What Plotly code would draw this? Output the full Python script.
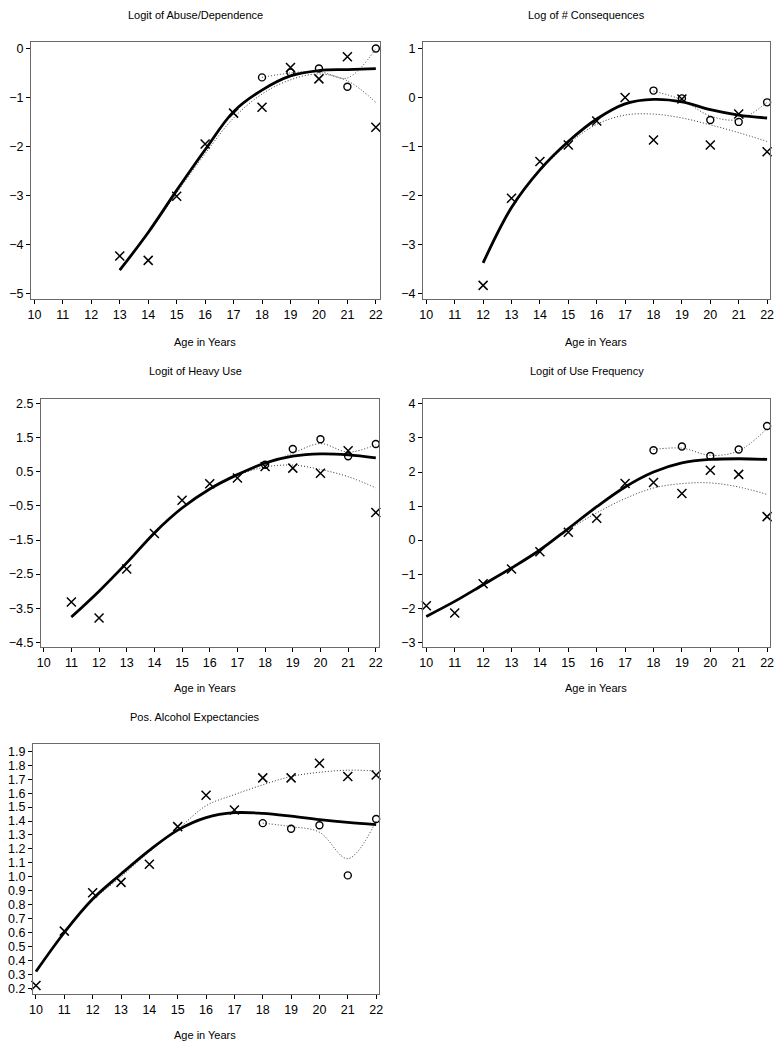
import plotly.graph_objects as go

W, H = 782, 1050

# ---------------- data ----------------
titles = ["Logit of Abuse/Dependence", "Log of # Consequences", "Logit of Heavy Use",
          "Logit of Use Frequency", "Pos. Alcohol Expectancies"]
xlabel = "Age in Years"
age_ticks = list(range(10, 23))
o_ages = [18, 19, 20, 21, 22]

# Panel 1: Logit of Abuse/Dependence
ages1 = list(range(13, 23))
xpts1 = [-4.24, -4.33, -3.02, -1.95, -1.32, -1.20, -0.39, -0.62, -0.17, -1.61]
opts1 = [-0.59, -0.49, -0.41, -0.78, 0.0]
fit1 = [-4.53, -3.76, -2.90, -2.07, -1.29, -0.85, -0.56, -0.45, -0.43, -0.41]
dotx1 = [-4.50, -3.78, -2.95, -2.15, -1.42, -0.93, -0.64, -0.52, -0.66, -1.10]
doto1 = [-0.59, -0.50, -0.47, -0.60, 0.0]

# Panel 2: Log of # Consequences
ages2 = list(range(12, 23))
xpts2 = [-3.84, -2.06, -1.31, -0.97, -0.48, 0.0, -0.87, -0.03, -0.97, -0.34, -1.11]
opts2 = [0.14, -0.02, -0.46, -0.50, -0.10]
fit2 = [-3.38, -2.25, -1.48, -0.90, -0.44, -0.13, -0.04, -0.09, -0.25, -0.36, -0.42]
dotx2 = [-3.38, -2.25, -1.50, -0.95, -0.55, -0.36, -0.34, -0.42, -0.56, -0.72, -0.90]
doto2 = [0.13, -0.05, -0.38, -0.45, -0.10]

# Panel 3: Logit of Heavy Use
ages3 = list(range(11, 23))
xpts3 = [-3.32, -3.79, -2.35, -1.31, -0.33, 0.15, 0.32, 0.66, 0.61, 0.46, 1.12, -0.69]
opts3 = [0.71, 1.17, 1.46, 0.96, 1.32]
fit3 = [-3.76, -3.00, -2.17, -1.29, -0.56, 0.0, 0.42, 0.76, 0.96, 1.03, 1.00, 0.91]
dotx3 = [-3.76, -3.00, -2.17, -1.29, -0.56, 0.0, 0.40, 0.64, 0.70, 0.57, 0.36, 0.03]
doto3 = [0.72, 1.05, 1.33, 1.08, 1.30]

# Panel 4: Logit of Use Frequency
ages4 = list(range(10, 23))
xpts4 = [-1.93, -2.14, -1.28, -0.85, -0.34, 0.23, 0.64, 1.66, 1.69, 1.37, 2.05, 1.93, 0.69]
opts4 = [2.64, 2.75, 2.47, 2.66, 3.35]
fit4 = [-2.24, -1.80, -1.31, -0.82, -0.29, 0.34, 0.98, 1.56, 2.00, 2.27, 2.37, 2.39, 2.37]
dotx4 = [-2.24, -1.80, -1.31, -0.82, -0.29, 0.30, 0.80, 1.22, 1.53, 1.66, 1.68, 1.56, 1.34]
doto4 = [2.66, 2.70, 2.49, 2.62, 3.28]

# Panel 5: Pos. Alcohol Expectancies
ages5 = list(range(10, 23))
xpts5 = [0.22, 0.61, 0.885, 0.96, 1.09, 1.36, 1.585, 1.48, 1.71, 1.71, 1.815, 1.72, 1.73]
opts5 = [1.385, 1.345, 1.37, 1.01, 1.415]
fit5 = [0.32, 0.60, 0.84, 1.02, 1.19, 1.335, 1.425, 1.46, 1.455, 1.435, 1.41, 1.39, 1.375]
dotx5 = [0.32, 0.60, 0.83, 1.00, 1.18, 1.34, 1.51, 1.59, 1.66, 1.72, 1.75, 1.765, 1.76]
doto5 = [1.385, 1.36, 1.32, 1.13, 1.40]

yticks1 = [0, -1, -2, -3, -4, -5]
yticks2 = [1, 0, -1, -2, -3, -4]
yticks3 = [2.5, 1.5, 0.5, -0.5, -1.5, -2.5, -3.5, -4.5]
yticks4 = [4, 3, 2, 1, 0, -1, -2, -3]
yticks5 = [0.2, 0.3, 0.4, 0.5, 0.6, 0.7, 0.8, 0.9, 1.0, 1.1, 1.2, 1.3, 1.4, 1.5, 1.6, 1.7, 1.8, 1.9]

panels = [
    (ages1, xpts1, opts1, fit1, dotx1, doto1, yticks1),
    (ages2, xpts2, opts2, fit2, dotx2, doto2, yticks2),
    (ages3, xpts3, opts3, fit3, dotx3, doto3, yticks3),
    (ages4, xpts4, opts4, fit4, dotx4, doto4, yticks4),
    (ages5, xpts5, opts5, fit5, dotx5, doto5, yticks5),
]

# ---------------- layout geometry (pixels) ----------------
boxes = [  # left, top, right, bottom
    (27.3, 40, 380, 297.7),
    (423.3, 40, 774, 297.7),
    (37.3, 398.3, 379.3, 647.7),
    (423.3, 399, 774, 647.7),
    (29.3, 745, 379, 996),
]
xranges = [(9.882, 22.15), (9.882, 22.105), (9.90, 22.13), (9.882, 22.105), (9.895, 22.105)]
yranges = [(-5.11, 0.136), (-4.11, 1.136), (-4.646, 2.646), (-3.146, 4.13), (0.157, 1.952)]
yfmt = [None, None, ".1f", None, ".1f"]
title_pos = [(193, 13), (589, 13), (193, 370), (589, 370), (193, 718)]
xlab_pos = [(203, 341), (598, 341), (203, 689), (598, 689), (203, 1037)]

FONT = "Liberation Sans"
fig = go.Figure()
layout = dict(width=W, height=H, margin=dict(l=0, r=0, t=0, b=0),
              paper_bgcolor="white", plot_bgcolor="white", showlegend=False,
              font=dict(family=FONT, size=11, color="black"))
annotations = []

for i, (ages, xp, op, fit, dx, do, yt) in enumerate(panels):
    n = i + 1
    xa = "x" if n == 1 else f"x{n}"
    ya = "y" if n == 1 else f"y{n}"
    l, t, r, b = boxes[i]
    common = dict(showline=True, mirror=True, linecolor="#6a6a6a", linewidth=1,
                  ticks="outside", ticklen=4, tickwidth=1.2, tickcolor="black",
                  showgrid=False, zeroline=False, tickfont=dict(family=FONT, size=12.5, color="black"))
    layout["xaxis" if n == 1 else f"xaxis{n}"] = dict(
        domain=[l / W, r / W], anchor=ya, range=list(xranges[i]),
        tickmode="array", tickvals=age_ticks, **common)
    ydict = dict(domain=[1 - b / H, 1 - t / H], anchor=xa, range=list(yranges[i]),
                 tickmode="array", tickvals=yt, **common)
    if yfmt[i]:
        ydict["tickformat"] = yfmt[i]
    layout["yaxis" if n == 1 else f"yaxis{n}"] = ydict

    dot_style = dict(color="#333", width=1, dash="1px,2px", shape="spline")
    fig.add_trace(go.Scatter(x=ages, y=dx, mode="lines", line=dot_style, xaxis=xa, yaxis=ya))
    fig.add_trace(go.Scatter(x=o_ages, y=do, mode="lines", line=dot_style, xaxis=xa, yaxis=ya))
    fig.add_trace(go.Scatter(x=ages, y=fit, mode="lines",
                             line=dict(color="black", width=2.8, shape="spline"), xaxis=xa, yaxis=ya))
    fig.add_trace(go.Scatter(x=ages, y=xp, mode="markers",
                             marker=dict(symbol="x-thin-open", size=9, color="black",
                                         line=dict(color="black", width=1.5)),
                             xaxis=xa, yaxis=ya, cliponaxis=False))
    fig.add_trace(go.Scatter(x=o_ages, y=op, mode="markers",
                             marker=dict(symbol="circle-open", size=7, color="black",
                                         line=dict(color="black", width=1.4)),
                             xaxis=xa, yaxis=ya, cliponaxis=False))

    tx, ty = title_pos[i]
    annotations.append(dict(text=titles[i], x=tx / W, y=1 - ty / H, xref="paper", yref="paper",
                            xanchor="center", yanchor="middle", showarrow=False,
                            font=dict(family=FONT, size=11, color="black")))
    lx, ly = xlab_pos[i]
    annotations.append(dict(text=xlabel, x=lx / W, y=1 - ly / H, xref="paper", yref="paper",
                            xanchor="center", yanchor="middle", showarrow=False,
                            font=dict(family=FONT, size=11, color="black")))

layout["annotations"] = annotations
fig.update_layout(**layout)
fig.write_html("out.html", config={"displayModeBar": False},
               post_script="document.body.style.margin='0px';document.body.style.overflow='hidden';")
